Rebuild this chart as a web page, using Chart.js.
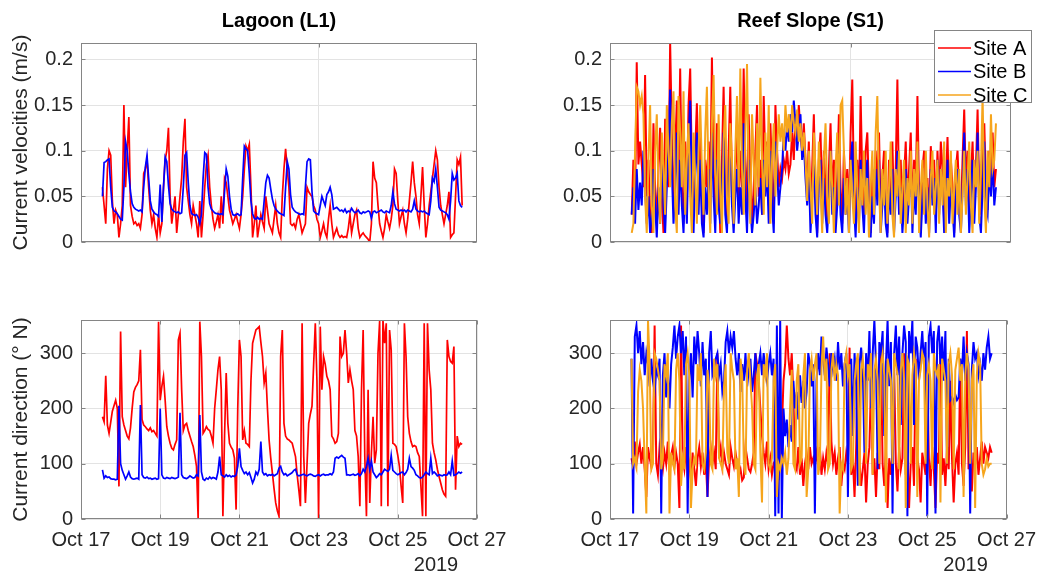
<!DOCTYPE html>
<html>
<head>
<meta charset="utf-8">
<title>Current velocity and direction</title>
<script src="https://cdn.jsdelivr.net/npm/chart.js@4.4.0/dist/chart.umd.min.js"></script>
<style>
  body { margin: 0; background: #fff; }
  #wrap { position: relative; width: 1045px; height: 579px; overflow: hidden; }
  #wrap canvas { position: absolute; }
</style>
</head>
<body>
<div id="wrap">
  <canvas id="lagoonSpeed" width="530" height="262" style="left:0;top:0"></canvas>
  <canvas id="reefSpeed" width="515" height="262" style="left:530px;top:0"></canvas>
  <canvas id="lagoonDir" width="530" height="317" style="left:0;top:262px"></canvas>
  <canvas id="reefDir" width="515" height="317" style="left:530px;top:262px"></canvas>
</div>
<script>
/* ---------------------------- Data ------------------------------------ */

// hourly samples, first one Oct 17 13:00 (x axis = days since Oct 17 00:00)
const t0 = 13 / 24;

const siteNames = ['Site A', 'Site B', 'Site C'];

// tick positions / labels
const dateTickDays = [0, 2, 4, 6, 8, 10];
const dateTickLabels = ['Oct 17', 'Oct 19', 'Oct 21', 'Oct 23', 'Oct 25', 'Oct 27'];
const topGridDays = [0, 3, 6, 9];
const speedTicks = [0, 0.05, 0.1, 0.15, 0.2];
const dirTicks = [0, 100, 200, 300];
const speedMax = 0.218;
const dirMax = 360;
const yearLabel = '2019';

// Lagoon (L1) current speed, m/s
const lagoonSpeedA = [
  0.060, 0.040, 0.020, 0.080, 0.100, 0.095, 0.045, 0.020, 0.035, 0.030,
  0.005, 0.020, 0.040, 0.150, 0.060, 0.100, 0.137, 0.040, 0.028, 0.020,
  0.022, 0.018, 0.020, 0.015, 0.030, 0.075, 0.080, 0.090, 0.060, 0.035,
  0.020, 0.030, 0.015, 0.005, 0.030, 0.010, 0.020, 0.060, 0.090, 0.100,
  0.125, 0.050, 0.020, 0.035, 0.050, 0.010, 0.030, 0.050, 0.070, 0.110,
  0.135, 0.060, 0.045, 0.030, 0.020, 0.040, 0.030, 0.020, 0.005, 0.045,
  0.005, 0.030, 0.060, 0.085, 0.095, 0.060, 0.040, 0.025, 0.015, 0.022,
  0.030, 0.015, 0.050, 0.020, 0.070, 0.065, 0.050, 0.035, 0.028, 0.020,
  0.025, 0.030, 0.022, 0.015, 0.030, 0.050, 0.080, 0.105, 0.100, 0.107,
  0.060, 0.005, 0.020, 0.040, 0.005, 0.018, 0.030, 0.022, 0.015, 0.050,
  0.035, 0.020, 0.015, 0.010, 0.025, 0.040, 0.020, 0.010, 0.005, 0.050,
  0.080, 0.102, 0.080, 0.060, 0.020, 0.018, 0.020, 0.015, 0.025, 0.030,
  0.020, 0.010, 0.015, 0.020, 0.060, 0.055, 0.052, 0.050, 0.040, 0.035,
  0.025, 0.020, 0.005, 0.012, 0.020, 0.010, 0.005, 0.025, 0.040, 0.020,
  0.005, 0.010, 0.015, 0.008, 0.005, 0.007, 0.005, 0.006, 0.005, 0.015,
  0.030, 0.010, 0.020, 0.030, 0.035, 0.015, 0.005, 0.008, 0.010, 0.007,
  0.005, 0.003, 0.000, 0.020, 0.088, 0.070, 0.065, 0.040, 0.020, 0.012,
  0.005, 0.015, 0.030, 0.022, 0.015, 0.025, 0.040, 0.080, 0.075, 0.045,
  0.020, 0.028, 0.035, 0.020, 0.010, 0.025, 0.045, 0.065, 0.088, 0.065,
  0.050, 0.030, 0.020, 0.050, 0.082, 0.040, 0.005, 0.020, 0.040, 0.055,
  0.070, 0.085, 0.100, 0.090, 0.060, 0.040, 0.030, 0.020, 0.030, 0.040,
  0.055, 0.005, 0.008, 0.010, 0.050, 0.090, 0.085, 0.093, 0.040
];
const lagoonSpeedB = [
  0.050, 0.087, 0.088, 0.090, 0.091, 0.060, 0.038, 0.034, 0.033, 0.031,
  0.028, 0.025, 0.024, 0.060, 0.110, 0.100, 0.075, 0.055, 0.042, 0.038,
  0.036, 0.035, 0.034, 0.035, 0.033, 0.060, 0.082, 0.095, 0.070, 0.045,
  0.036, 0.033, 0.031, 0.030, 0.028, 0.063, 0.022, 0.060, 0.093, 0.088,
  0.062, 0.042, 0.036, 0.034, 0.033, 0.032, 0.033, 0.031, 0.032, 0.060,
  0.095, 0.098, 0.065, 0.040, 0.031, 0.030, 0.029, 0.030, 0.027, 0.020,
  0.030, 0.070, 0.098, 0.096, 0.060, 0.042, 0.036, 0.034, 0.032, 0.031,
  0.031, 0.030, 0.031, 0.030, 0.055, 0.080, 0.072, 0.050, 0.036, 0.030,
  0.029, 0.030, 0.031, 0.029, 0.030, 0.070, 0.105, 0.102, 0.100, 0.075,
  0.045, 0.031, 0.026, 0.025, 0.027, 0.025, 0.026, 0.025, 0.045, 0.065,
  0.073, 0.070, 0.058, 0.047, 0.040, 0.036, 0.034, 0.032, 0.031, 0.030,
  0.029, 0.060, 0.088, 0.080, 0.052, 0.038, 0.035, 0.033, 0.032, 0.031,
  0.030, 0.031, 0.030, 0.060, 0.088, 0.091, 0.090, 0.055, 0.034, 0.032,
  0.031, 0.030, 0.040, 0.050, 0.045, 0.040, 0.052, 0.055, 0.060, 0.052,
  0.036, 0.037, 0.038, 0.036, 0.034, 0.035, 0.033, 0.036, 0.032, 0.034,
  0.033, 0.037, 0.034, 0.032, 0.033, 0.035, 0.032, 0.031, 0.033, 0.032,
  0.033, 0.034, 0.033, 0.026, 0.033, 0.034, 0.032, 0.033, 0.034, 0.035,
  0.033, 0.032, 0.034, 0.033, 0.032, 0.040, 0.055, 0.042, 0.036, 0.035,
  0.034, 0.035, 0.034, 0.035, 0.033, 0.035, 0.034, 0.033, 0.036, 0.045,
  0.036, 0.034, 0.033, 0.034, 0.033, 0.034, 0.032, 0.031, 0.030, 0.045,
  0.070, 0.066, 0.080, 0.060, 0.038, 0.035, 0.034, 0.033, 0.032, 0.030,
  0.025, 0.045, 0.075, 0.068, 0.070, 0.075, 0.045, 0.040, 0.038
];

// Lagoon (L1) current direction, degrees from N
const lagoonDirA = [
  185, 176, 259, 170, 155, 175, 195, 205, 215, 200,
  59, 339, 185, 170, 160, 150, 145, 165, 200, 230,
  238, 243, 250, 306, 180, 170, 167, 163, 160, 165,
  158, 160, 155, 150, 357, 215, 240, 258, 215, 167,
  150, 137, 128, 125, 135, 143, 324, 336, 234, 160,
  170, 173, 160, 150, 140, 131, 115, 95, 0, 357,
  294, 155, 160, 167, 162, 160, 150, 137, 200, 234,
  270, 294, 234, 5, 150, 264, 173, 137, 130, 125,
  110, 17, 200, 324, 294, 143, 160, 137, 135, 131,
  250, 318, 330, 342, 345, 348, 320, 294, 246, 264,
  200, 143, 110, 83, 55, 29, 15, 5, 294, 342,
  173, 150, 145, 143, 140, 137, 125, 113, 80, 53,
  23, 354, 113, 29, 100, 173, 190, 204, 280, 354,
  250, 0, 348, 234, 294, 280, 258, 250, 234, 150,
  145, 137, 140, 155, 330, 294, 300, 342, 300, 246,
  270, 250, 234, 160, 150, 113, 23, 234, 342, 113,
  5, 234, 29, 120, 185, 101, 125, 300, 358, 23,
  360, 318, 354, 23, 342, 306, 137, 135, 131, 115,
  95, 60, 29, 354, 294, 185, 155, 140, 131, 133,
  131, 120, 113, 60, 5, 354, 5, 354, 270, 234,
  137, 120, 107, 90, 77, 65, 53, 45, 41, 324,
  294, 285, 282, 312, 53, 150, 131, 137, 135
];
const lagoonDirB = [
  89, 74, 78, 75, 76, 73, 72, 72, 71, 72,
  205, 100, 88, 80, 72, 78, 85, 76, 73, 72,
  73, 74, 72, 206, 80, 75, 74, 76, 73, 74,
  72, 73, 74, 72, 73, 200, 80, 74, 73, 75,
  74, 73, 75, 74, 73, 74, 76, 192, 80, 75,
  74, 73, 75, 78, 76, 74, 75, 80, 78, 188,
  85, 72, 70, 74, 72, 76, 73, 75, 74, 72,
  85, 113, 80, 78, 76, 80, 77, 79, 76, 78,
  77, 80, 95, 128, 95, 88, 82, 85, 80, 84,
  75, 65, 72, 85, 80, 90, 140, 85, 80, 82,
  78, 80, 79, 81, 78, 80, 82, 92, 95, 85,
  80, 82, 78, 80, 82, 84, 88, 90, 80, 78,
  79, 80, 81, 79, 78, 80, 81, 80, 78, 77,
  79, 80, 78, 80, 81, 79, 80, 80, 82, 80,
  85, 110, 112, 110, 113, 115, 112, 110, 80, 80,
  79, 80, 81, 79, 80, 82, 78, 82, 90, 85,
  95, 110, 90, 105, 85, 80, 75, 78, 82, 80,
  85, 90, 88, 86, 90, 115, 88, 85, 82, 80,
  82, 84, 85, 80, 84, 90, 110, 95, 92, 88,
  80, 78, 75, 74, 76, 80, 85, 82, 80, 110,
  82, 85, 82, 78, 80, 79, 78, 80, 79, 80,
  85, 80, 105, 79, 80, 82, 85, 83, 85
];

// Reef Slope (S1) current speed, m/s
const reefSpeedA = [
  0.030, 0.090, 0.040, 0.197, 0.085, 0.110, 0.085, 0.060, 0.183, 0.050,
  0.090, 0.030, 0.010, 0.130, 0.060, 0.020, 0.080, 0.125, 0.050, 0.010,
  0.135, 0.090, 0.060, 0.218, 0.120, 0.040, 0.100, 0.155, 0.070, 0.190,
  0.060, 0.020, 0.110, 0.040, 0.150, 0.190, 0.080, 0.030, 0.100, 0.152,
  0.060, 0.120, 0.040, 0.010, 0.090, 0.060, 0.110, 0.050, 0.202, 0.080,
  0.030, 0.130, 0.070, 0.010, 0.090, 0.170, 0.050, 0.020, 0.100, 0.170,
  0.060, 0.030, 0.080, 0.120, 0.040, 0.100, 0.060, 0.190, 0.090, 0.030,
  0.140, 0.070, 0.020, 0.060, 0.100, 0.150, 0.050, 0.090, 0.030, 0.160,
  0.080, 0.110, 0.040, 0.130, 0.070, 0.020, 0.150, 0.100, 0.060, 0.080,
  0.070, 0.090, 0.080, 0.100, 0.075, 0.085, 0.120, 0.090, 0.140, 0.110,
  0.150, 0.120, 0.100, 0.130, 0.090, 0.060, 0.110, 0.030, 0.080, 0.140,
  0.050, 0.010, 0.090, 0.120, 0.040, 0.100, 0.060, 0.020, 0.080, 0.130,
  0.050, 0.090, 0.030, 0.070, 0.140, 0.060, 0.020, 0.100, 0.050, 0.080,
  0.030, 0.120, 0.178, 0.060, 0.020, 0.090, 0.040, 0.160, 0.070, 0.030,
  0.100, 0.120, 0.050, 0.010, 0.080, 0.040, 0.100, 0.060, 0.120, 0.030,
  0.070, 0.100, 0.040, 0.010, 0.090, 0.050, 0.110, 0.030, 0.080, 0.178,
  0.050, 0.090, 0.020, 0.070, 0.110, 0.040, 0.080, 0.120, 0.030, 0.090,
  0.060, 0.160, 0.050, 0.010, 0.080, 0.100, 0.040, 0.070, 0.020, 0.105,
  0.060, 0.090, 0.030, 0.100, 0.050, 0.110, 0.080, 0.020, 0.060, 0.115,
  0.040, 0.090, 0.060, 0.010, 0.080, 0.100, 0.050, 0.030, 0.090, 0.145,
  0.060, 0.100, 0.030, 0.070, 0.110, 0.040, 0.080, 0.145, 0.050, 0.030,
  0.090, 0.130, 0.060, 0.035, 0.100, 0.070, 0.120, 0.060, 0.080
];
const reefSpeedB = [
  0.030, 0.060, 0.020, 0.080, 0.035, 0.065, 0.040, 0.100, 0.060, 0.020,
  0.050, 0.010, 0.030, 0.080, 0.040, 0.005, 0.060, 0.020, 0.100, 0.040,
  0.010, 0.060, 0.100, 0.167, 0.080, 0.020, 0.060, 0.120, 0.030, 0.090,
  0.040, 0.010, 0.070, 0.020, 0.110, 0.155, 0.060, 0.010, 0.080, 0.120,
  0.030, 0.090, 0.020, 0.005, 0.060, 0.030, 0.080, 0.020, 0.120, 0.050,
  0.010, 0.090, 0.040, 0.020, 0.060, 0.120, 0.030, 0.010, 0.070, 0.100,
  0.040, 0.010, 0.050, 0.080, 0.020, 0.060, 0.030, 0.130, 0.050, 0.010,
  0.090, 0.040, 0.010, 0.030, 0.060, 0.020, 0.040, 0.070, 0.030, 0.090,
  0.050, 0.080, 0.020, 0.100, 0.040, 0.010, 0.110, 0.080, 0.040, 0.060,
  0.080, 0.120, 0.100, 0.130, 0.110, 0.140, 0.120, 0.155, 0.130, 0.100,
  0.120, 0.140, 0.090, 0.110, 0.070, 0.040, 0.080, 0.010, 0.050, 0.090,
  0.030, 0.005, 0.060, 0.090, 0.020, 0.070, 0.030, 0.010, 0.050, 0.100,
  0.030, 0.060, 0.010, 0.040, 0.100, 0.030, 0.010, 0.070, 0.030, 0.050,
  0.010, 0.080, 0.110, 0.040, 0.005, 0.060, 0.020, 0.090, 0.040, 0.010,
  0.070, 0.090, 0.030, 0.005, 0.050, 0.020, 0.080, 0.040, 0.090, 0.010,
  0.040, 0.070, 0.020, 0.005, 0.060, 0.030, 0.080, 0.010, 0.050, 0.100,
  0.030, 0.060, 0.010, 0.040, 0.080, 0.020, 0.050, 0.090, 0.010, 0.060,
  0.030, 0.100, 0.040, 0.005, 0.050, 0.070, 0.020, 0.060, 0.010, 0.080,
  0.040, 0.070, 0.010, 0.090, 0.030, 0.080, 0.060, 0.010, 0.040, 0.090,
  0.020, 0.060, 0.040, 0.005, 0.050, 0.080, 0.030, 0.010, 0.060, 0.120,
  0.040, 0.080, 0.010, 0.050, 0.090, 0.020, 0.060, 0.120, 0.030, 0.010,
  0.060, 0.110, 0.040, 0.030, 0.080, 0.050, 0.090, 0.040, 0.060
];
const reefSpeedC = [
  0.010, 0.020, 0.100, 0.170, 0.165, 0.150, 0.160, 0.140, 0.050, 0.010,
  0.090, 0.150, 0.040, 0.010, 0.100, 0.140, 0.060, 0.020, 0.120, 0.080,
  0.030, 0.150, 0.100, 0.060, 0.130, 0.165, 0.040, 0.010, 0.160, 0.120,
  0.060, 0.165, 0.030, 0.090, 0.130, 0.050, 0.010, 0.120, 0.070, 0.020,
  0.100, 0.150, 0.080, 0.030, 0.120, 0.170, 0.060, 0.010, 0.130, 0.183,
  0.080, 0.030, 0.140, 0.060, 0.010, 0.110, 0.150, 0.050, 0.020, 0.130,
  0.090, 0.020, 0.100, 0.160, 0.060, 0.190, 0.080, 0.030, 0.120, 0.195,
  0.070, 0.020, 0.140, 0.090, 0.040, 0.130, 0.060, 0.180, 0.090, 0.030,
  0.120, 0.060, 0.150, 0.020, 0.090, 0.130, 0.050, 0.100, 0.140, 0.110,
  0.130, 0.100, 0.150, 0.120, 0.140, 0.110, 0.150, 0.130, 0.120, 0.145,
  0.110, 0.130, 0.100, 0.120, 0.090, 0.045, 0.100, 0.060, 0.020, 0.120,
  0.080, 0.030, 0.110, 0.060, 0.010, 0.090, 0.130, 0.050, 0.020, 0.100,
  0.060, 0.010, 0.080, 0.120, 0.040, 0.150, 0.155, 0.100, 0.030, 0.070,
  0.010, 0.090, 0.050, 0.020, 0.110, 0.060, 0.010, 0.080, 0.040, 0.100,
  0.030, 0.070, 0.005, 0.060, 0.100, 0.030, 0.120, 0.160, 0.060, 0.010,
  0.080, 0.040, 0.100, 0.020, 0.060, 0.110, 0.030, 0.005, 0.080, 0.050,
  0.100, 0.020, 0.060, 0.090, 0.010, 0.070, 0.040, 0.100, 0.020, 0.080,
  0.050, 0.110, 0.010, 0.060, 0.090, 0.030, 0.100, 0.040, 0.005, 0.070,
  0.100, 0.030, 0.060, 0.090, 0.020, 0.080, 0.040, 0.110, 0.010, 0.070,
  0.050, 0.100, 0.020, 0.060, 0.090, 0.030, 0.080, 0.010, 0.050, 0.100,
  0.030, 0.070, 0.110, 0.040, 0.010, 0.090, 0.060, 0.100, 0.020, 0.080,
  0.160, 0.050, 0.010, 0.100, 0.060, 0.140, 0.080, 0.090, 0.130
];

// Reef Slope (S1) current direction, degrees from N
const reefDirA = [
  110, 95, 140, 100, 120, 135, 100, 130, 90, 40,
  130, 110, 95, 120, 350, 100, 80, 130, 110, 90,
  120, 100, 140, 80, 115, 130, 95, 120, 100, 20,
  350, 110, 90, 130, 80, 100, 70, 120, 90, 60,
  110, 130, 95, 120, 80, 105, 40, 110, 130, 100,
  120, 90, 300, 110, 130, 95, 120, 100, 90, 80,
  130, 110, 95, 120, 100, 80, 90, 70, 75, 130,
  110, 90, 85, 100, 120, 300, 280, 250, 200, 150,
  120, 100, 140, 90, 110, 80, 100, 95, 120, 70,
  150, 160, 250, 280, 350, 290, 260, 300, 220, 100,
  90, 130, 80, 110, 60, 100, 120, 90, 130, 100,
  110, 95, 120, 100, 130, 80, 110, 90, 120, 100,
  300, 140, 100, 120, 80, 110, 130, 60, 100, 90,
  120, 100, 310, 80, 110, 40, 130, 290, 100, 60,
  90, 120, 30, 100, 130, 250, 80, 110, 40, 120,
  90, 300, 100, 60, 130, 20, 110, 80, 120, 270,
  100, 50, 130, 90, 110, 300, 80, 120, 20, 100,
  130, 60, 290, 110, 90, 30, 120, 100, 80, 260,
  110, 60, 130, 90, 20, 120, 100, 300, 80, 110,
  60, 130, 90, 250, 110, 30, 100, 120, 80, 290,
  100, 60, 130, 340, 90, 110, 50, 120, 100, 130,
  80, 110, 140, 100, 130, 120, 110, 130, 120
];
const reefDirB = [
  290, 10, 330, 350, 300, 340, 280, 320, 260, 300,
  280, 240, 290, 250, 230, 270, 260, 290, 10, 260,
  300, 220, 270, 200, 280, 310, 350, 290, 330, 350,
  300, 340, 260, 330, 10, 250, 300, 220, 330, 280,
  340, 300, 240, 320, 260, 290, 40, 300, 340, 260,
  270, 290, 300, 260, 280, 230, 250, 320, 340, 300,
  330, 310, 340, 290, 260, 300, 230, 280, 250, 300,
  240, 270, 290, 230, 260, 300, 250, 280, 300, 260,
  300, 270, 250, 280, 300, 260, 290, 5, 350, 10,
  360, 0, 200, 150, 180, 130, 170, 140, 250, 200,
  230, 180, 260, 210, 250, 200, 230, 300, 280, 240,
  280, 10, 250, 300, 260, 330, 290, 260, 310, 280,
  240, 300, 270, 290, 250, 320, 270, 300, 240, 280,
  300, 40, 260, 290, 150, 300, 240, 60, 280, 310,
  270, 120, 300, 250, 340, 200, 300, 360, 280, 90,
  320, 300, 340, 150, 280, 360, 240, 320, 10, 300,
  350, 260, 330, 170, 300, 350, 320, 5, 340, 300,
  360, 170, 330, 310, 250, 300, 340, 280, 320, 5,
  330, 350, 300, 340, 10, 320, 350, 280, 330, 250,
  340, 100, 290, 215, 220, 210, 225, 215, 220, 290,
  260, 330, 250, 300, 280, 10, 270, 320, 290, 300,
  260, 280, 250, 300, 270, 310, 330, 290, 300
];
const reefDirC = [
  290, 100, 110, 95, 230, 270, 250, 200, 100, 10,
  360, 280, 90, 100, 300, 290, 270, 250, 90, 110,
  280, 260, 300, 10, 120, 100, 90, 270, 300, 250,
  60, 110, 90, 280, 300, 260, 20, 90, 110, 100,
  280, 250, 300, 100, 90, 120, 270, 240, 100, 90,
  290, 260, 280, 110, 100, 90, 240, 280, 120, 100,
  300, 270, 250, 90, 110, 40, 290, 260, 100, 80,
  270, 300, 250, 200, 100, 90, 260, 280, 120, 30,
  280, 260, 300, 100, 90, 110, 250, 280, 40, 100,
  90, 110, 100, 120, 80, 110, 200, 270, 100, 90,
  250, 280, 100, 110, 260, 300, 40, 90, 270, 290,
  250, 280, 300, 80, 100, 270, 330, 250, 290, 90,
  100, 270, 300, 250, 280, 260, 10, 100, 90, 280,
  300, 260, 280, 90, 100, 250, 280, 300, 60, 270,
  290, 250, 100, 280, 260, 300, 80, 270, 290, 250,
  100, 280, 300, 260, 30, 290, 270, 250, 100, 300,
  280, 260, 90, 270, 300, 250, 20, 290, 280, 100,
  260, 300, 280, 40, 250, 270, 300, 290, 100, 260,
  280, 250, 90, 300, 270, 260, 280, 30, 290, 270,
  250, 100, 280, 300, 260, 90, 270, 290, 310, 250,
  280, 40, 260, 300, 270, 100, 250, 280, 20, 260,
  300, 280, 100, 80, 90, 110, 95, 100, 100
];

/* ---------------------------- Style ----------------------------------- */

const FONT = "'Liberation Sans', Arial, Helvetica, sans-serif";
const INK = '#262626';
const GRID = '#e3e3e3';
const FRAME = '#858585';
const siteColors = ['#ff0000', '#0000ff', '#f6a51c'];

function series(vals) {
    return vals.map((v, i) => ({ x: t0 + i / 24, y: v }));
}

function datasets(list, width) {
    // MATLAB style draw order: Site A first, last site ends up on top
    return list.map((vals, k) => ({
        label: siteNames[k],
        data: series(vals),
        borderColor: siteColors[k],
        borderWidth: width,
        pointRadius: 0,
        tension: 0,
        order: list.length - k
    }));
}

// full box round the plot plus small inward ticks
const boxFrame = {
    id: 'boxFrame',
    afterDatasetsDraw(chart) {
        const { ctx, chartArea: a, scales } = chart;
        const L = Math.round(a.left) + 0.5, R = Math.round(a.right) - 0.5;
        const T = Math.round(a.top) + 0.5, B = Math.round(a.bottom) - 0.5;
        ctx.save();
        ctx.strokeStyle = FRAME;
        ctx.lineWidth = 1;
        ctx.beginPath();
        scales.x.ticks.forEach(t => {
            const px = Math.round(scales.x.getPixelForValue(t.value)) + 0.5;
            ctx.moveTo(px, B); ctx.lineTo(px, B - 4);
            ctx.moveTo(px, T); ctx.lineTo(px, T + 4);
        });
        scales.y.ticks.forEach(t => {
            const py = Math.round(scales.y.getPixelForValue(t.value)) + 0.5;
            ctx.moveTo(L, py); ctx.lineTo(L + 4, py);
            ctx.moveTo(R, py); ctx.lineTo(R - 4, py);
        });
        ctx.stroke();
        ctx.strokeRect(L, T, R - L, B - T);
        ctx.restore();
    }
};

// legend box drawn over the plot, top right
const legendBox = {
    id: 'legendBox',
    afterDraw(chart, args, o) {
        if (!o.show) return;
        const ctx = chart.ctx;
        ctx.save();
        ctx.fillStyle = '#fff';
        ctx.fillRect(o.x, o.y, o.w, o.h);
        ctx.strokeStyle = FRAME;
        ctx.lineWidth = 1;
        ctx.strokeRect(o.x + 0.5, o.y + 0.5, o.w, o.h);
        ctx.font = '20px ' + FONT;
        ctx.textBaseline = 'middle';
        chart.data.datasets.forEach((ds, k) => {
            const cy = o.y + 18 + k * 23.5;
            ctx.strokeStyle = ds.borderColor;
            ctx.lineWidth = 1.5;
            ctx.beginPath();
            ctx.moveTo(o.x + 4, cy);
            ctx.lineTo(o.x + 37, cy);
            ctx.stroke();
            ctx.fillStyle = '#000';
            ctx.fillText(ds.label, o.x + 39, cy + 1);
        });
        ctx.restore();
    }
};

// year stamp under the date axis
const yearMark = {
    id: 'yearMark',
    afterDraw(chart, args, o) {
        if (!o.text) return;
        const { ctx, chartArea: a } = chart;
        ctx.save();
        ctx.font = '20px ' + FONT;
        ctx.fillStyle = INK;
        ctx.textAlign = 'center';
        ctx.textBaseline = 'middle';
        ctx.fillText(o.text, a.right - 41, a.bottom + 46);
        ctx.restore();
    }
};

function makePanel(id, cfg) {
    const bottomRow = cfg.dates;
    return new Chart(document.getElementById(id), {
        type: 'line',
        data: { datasets: datasets(cfg.series, cfg.lineWidth) },
        plugins: [boxFrame, legendBox, yearMark],
        options: {
            responsive: false,
            animation: false,
            events: [],
            layout: { padding: { left: 0, right: cfg.padRight, top: cfg.padTop || 0, bottom: 0 } },
            plugins: {
                legend: { display: false },
                tooltip: { enabled: false },
                title: {
                    display: !!cfg.title,
                    text: cfg.title || '',
                    fullSize: false,
                    color: '#000',
                    font: { family: FONT, size: 20, weight: 'bold' },
                    padding: { top: 9, bottom: 10 }
                },
                legendBox: cfg.legend || { show: false },
                yearMark: { text: bottomRow ? yearLabel : '' }
            },
            scales: {
                x: {
                    type: 'linear',
                    min: 0,
                    max: 10,
                    afterBuildTicks: s => {
                        s.ticks = (bottomRow ? dateTickDays : topGridDays).map(v => ({ value: v }));
                    },
                    afterFit: s => { s.height = cfg.xHeight; },
                    grid: { color: GRID, drawTicks: false },
                    border: { display: false },
                    ticks: {
                        display: bottomRow,
                        autoSkip: false,
                        maxRotation: 0,
                        padding: 9,
                        color: INK,
                        font: { family: FONT, size: 20 },
                        callback: v => dateTickLabels[dateTickDays.indexOf(v)]
                    }
                },
                y: {
                    type: 'linear',
                    min: 0,
                    max: cfg.yMax,
                    afterBuildTicks: s => { s.ticks = cfg.yTicks.map(v => ({ value: v })); },
                    afterFit: s => { s.width = cfg.yWidth; },
                    grid: { color: GRID, drawTicks: false },
                    border: { display: false },
                    title: {
                        display: !!cfg.yTitle,
                        text: cfg.yTitle || '',
                        color: INK,
                        font: { family: FONT, size: 21 },
                        padding: { top: 9, bottom: 0 }
                    },
                    ticks: {
                        padding: 8,
                        color: INK,
                        font: { family: FONT, size: 20 },
                        callback: v => String(+v.toFixed(2))
                    }
                }
            }
        }
    });
}

/* ---------------------------- Panels ---------------------------------- */

makePanel('lagoonSpeed', {
    series: [lagoonSpeedA, lagoonSpeedB],
    title: 'Lagoon (L1)',
    yTitle: 'Current velocities (m/s)',
    yMax: speedMax, yTicks: speedTicks, lineWidth: 1.7,
    yWidth: 81, padRight: 53, xHeight: 20, dates: false
});

makePanel('reefSpeed', {
    series: [reefSpeedA, reefSpeedB, reefSpeedC],
    title: 'Reef Slope (S1)',
    yMax: speedMax, yTicks: speedTicks, lineWidth: 2,
    yWidth: 80, padRight: 34, xHeight: 20, dates: false,
    legend: { show: true, x: 404, y: 30, w: 97, h: 72 }
});

makePanel('lagoonDir', {
    series: [lagoonDirA, lagoonDirB],
    yTitle: 'Current direction (\u00B0 N)',
    yMax: dirMax, yTicks: dirTicks, lineWidth: 1.7,
    yWidth: 81, padRight: 53, padTop: 58, xHeight: 60, dates: true
});

makePanel('reefDir', {
    series: [reefDirA, reefDirB, reefDirC],
    yMax: dirMax, yTicks: dirTicks, lineWidth: 2,
    yWidth: 80, padRight: 34, padTop: 58, xHeight: 60, dates: true
});
</script>
</body>
</html>
